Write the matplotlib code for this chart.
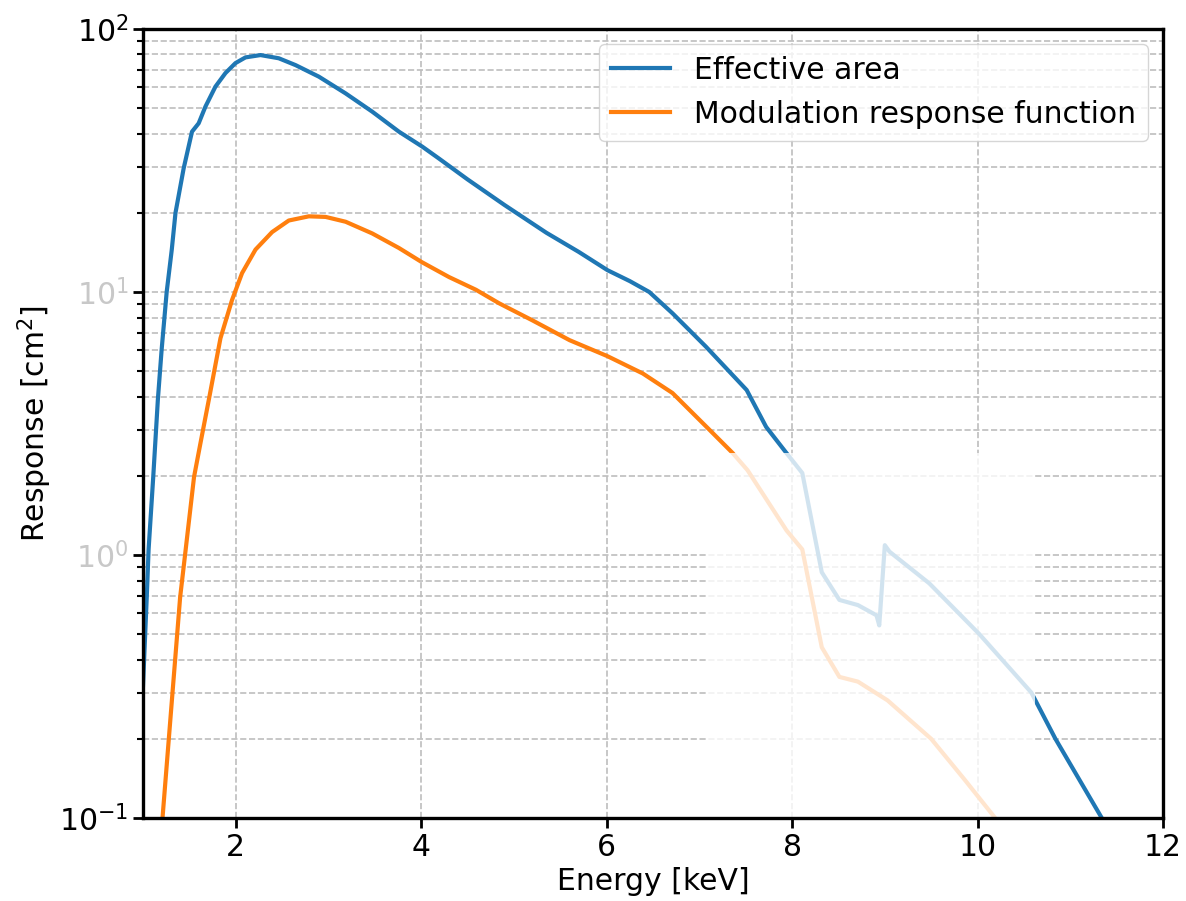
import numpy as np
import matplotlib.pyplot as plt
from matplotlib.patches import Rectangle

# Effective area curve (keV, cm^2)
energy_eff = [1.0, 1.04, 1.06, 1.11, 1.16, 1.20, 1.255, 1.31, 1.35, 1.438, 1.528, 1.60,
	1.673, 1.781, 1.889, 1.997, 2.105, 2.267, 2.464, 2.645, 2.896, 3.185, 3.472, 3.76,
	4.012, 4.19, 4.5, 4.9, 5.35, 5.7, 6.01, 6.25, 6.46, 6.71, 7.07, 7.51, 7.72, 7.94,
	8.11, 8.32, 8.51, 8.71, 8.91, 8.94, 9.0, 9.05, 9.48, 10.02, 10.58, 10.84, 11.34,
	11.45]
eff_area = [0.32, 0.69, 1.05, 1.98, 3.9, 6.0, 10.0, 14.5, 20.0, 29.5, 40.7, 43.8,
	50.7, 60.4, 68.0, 74.2, 78.0, 79.6, 77.4, 72.9, 65.9, 56.9, 48.5, 40.7,
	35.7, 32.2, 26.8, 21.4, 16.8, 14.2, 12.1, 11.0, 10.0, 8.3, 6.2, 4.24, 3.07, 2.44,
	2.05, 0.86, 0.675, 0.645, 0.59, 0.54, 1.09, 1.03, 0.78, 0.50, 0.30, 0.20, 0.10,
	0.085]

# Modulation response function
energy_mod = [1.19, 1.21, 1.30, 1.40, 1.46, 1.55, 1.62, 1.71, 1.835, 1.96, 2.068,
	2.213, 2.392, 2.572, 2.788, 2.969, 3.185, 3.472, 3.76, 4.005, 4.30, 4.59, 4.84,
	5.2, 5.6, 6.01, 6.39, 6.71, 7.11, 7.36, 7.52, 7.94, 8.11, 8.32, 8.51, 8.71, 9.03,
	9.5, 9.86, 10.19, 10.25]
mod_resp = [0.08, 0.1, 0.25, 0.69, 1.05, 1.98, 2.67, 3.9, 6.67, 9.33, 11.8,
	14.5, 16.9, 18.7, 19.4, 19.3, 18.5, 16.7, 14.7, 13.0, 11.4, 10.2, 9.06,
	7.8, 6.56, 5.7, 4.9, 4.13, 2.99, 2.44, 2.1, 1.24, 1.05, 0.446, 0.344, 0.33, 0.28,
	0.2, 0.14, 0.1, 0.09]

yticks = [0.1, 1, 10, 100]
faded_yticks = [1, 10]


def main() -> None:
	plt.rcParams["font.size"] = 21.5

	fig = plt.figure(figsize=(11.86, 9.01), dpi=100)
	ax = fig.add_axes([0.1206, 0.0921, 0.8600, 0.8757])

	ax.semilogy(energy_eff, eff_area, color="#1f77b4", lw=3, label="Effective area")
	ax.semilogy(energy_mod, mod_resp, color="#ff7f0e", lw=3, label="Modulation response function")

	ax.set_xlim(1, 12)
	ax.set_ylim(0.1, 100)
	ax.set_yticks(yticks)
	ax.set_xticks([2, 4, 6, 8, 10, 12])

	ax.grid(which="major", linestyle="--", color="#bdbdbd", lw=1.2)
	ax.grid(which="minor", axis="y", linestyle="--", color="#bdbdbd", lw=1.2)

	ax.tick_params(which="major", direction="out", length=7, width=2)
	ax.tick_params(which="minor", direction="out", length=4, width=1.5)
	for sp in ax.spines.values():
		sp.set_linewidth(2.4)

	# washed-out patch seen in the reference image
	ax.add_patch(Rectangle((7.075, 0.1), 10.62 - 7.075, 2.44 - 0.1,
		facecolor="white", edgecolor="none", alpha=0.8, zorder=2.4))

	ax.set_xlabel("Energy [keV]")
	ax.set_ylabel("Response [cm$^2$]")
	ax.legend(loc="upper right")

	# tick positions are only assigned at draw time
	fig.canvas.draw()
	for tick in ax.yaxis.get_major_ticks():
		loc = tick.get_loc()
		if loc is not None and any(np.isclose(loc, v) for v in faded_yticks):
			tick.label1.set_color("#c8c8c8")

	fig.savefig("out.png", dpi=100)
	plt.close(fig)


if __name__ == "__main__":
	main()
